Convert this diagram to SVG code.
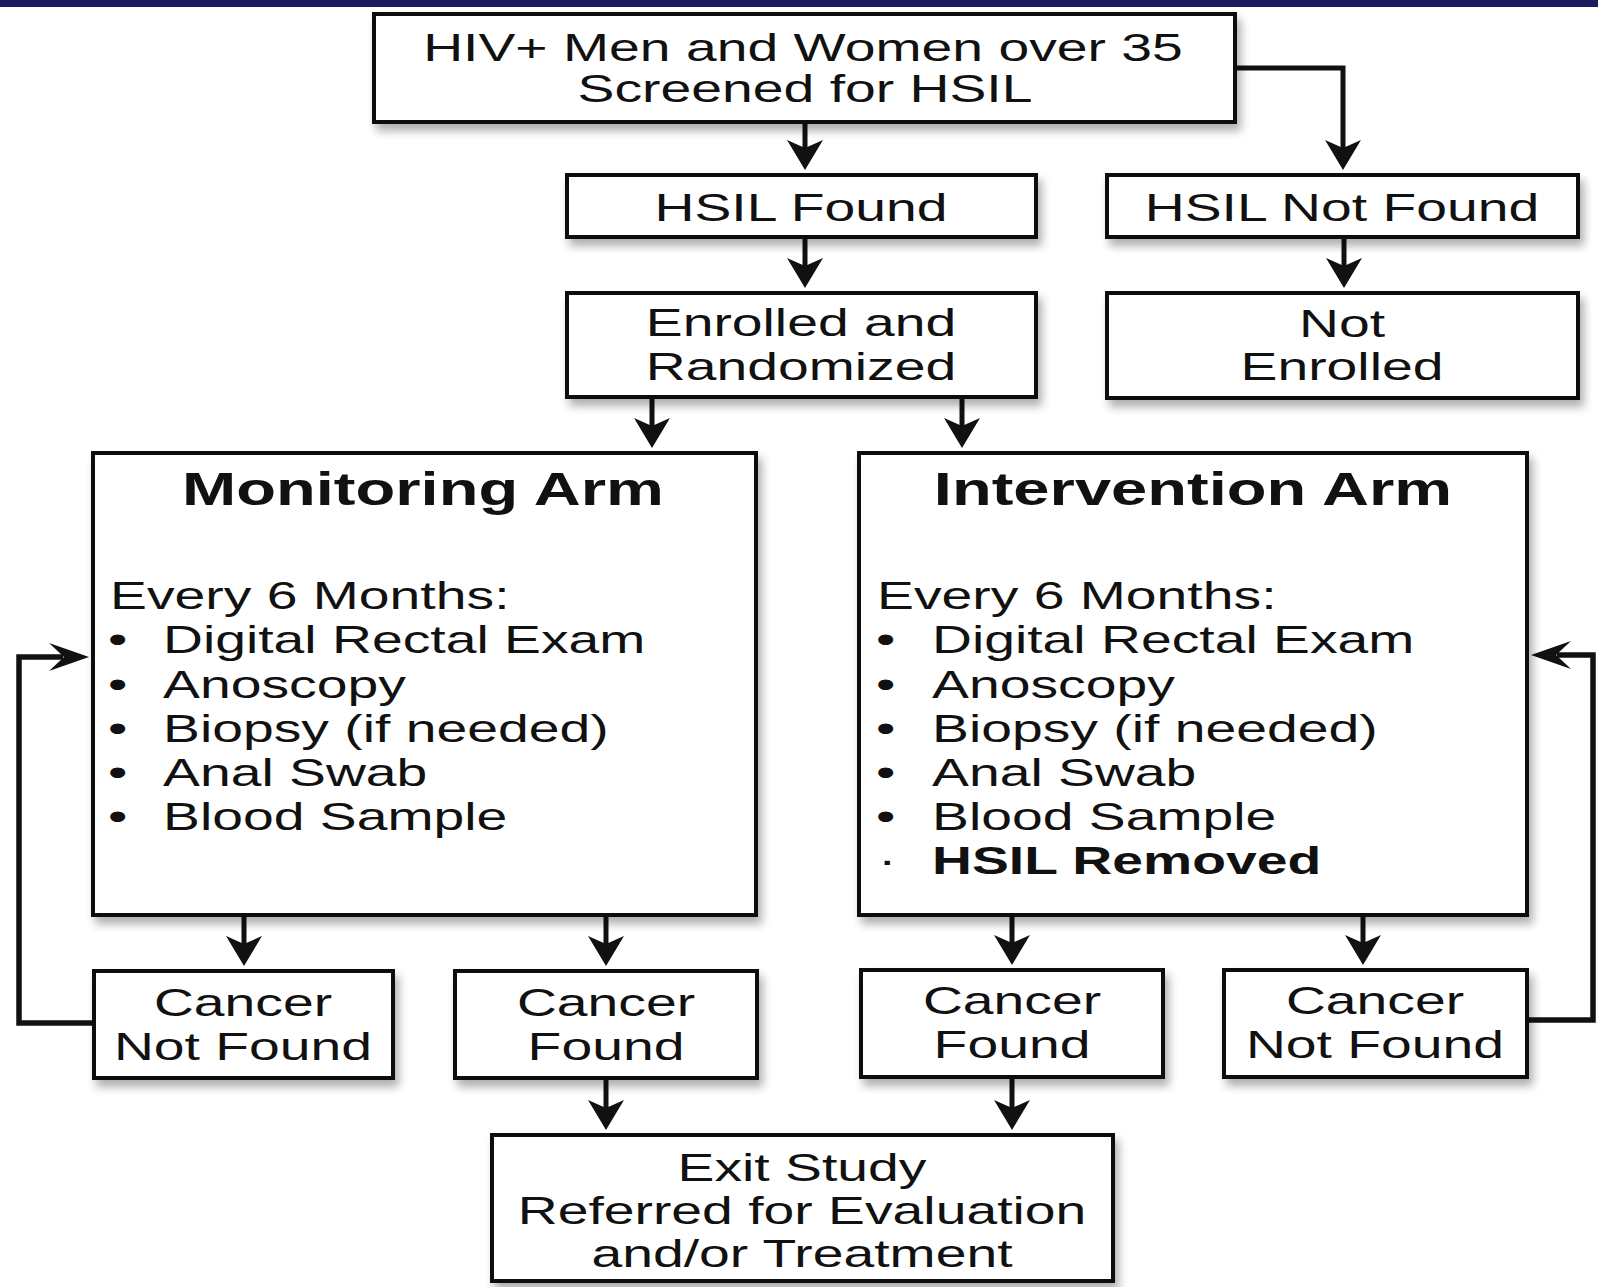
<svg xmlns="http://www.w3.org/2000/svg" width="1598" height="1287" viewBox="0 0 1598 1287">
  <defs>
    <style>
      .box { fill: #ffffff; stroke: #111111; stroke-width: 4; filter: url(#shadow); }
      .t { font-family: "Liberation Sans", Arial, Helvetica, sans-serif; font-size: 39.5px; fill: #111111; }
      .c { text-anchor: middle; }
      .b { font-weight: bold; }
      .title { font-family: "Liberation Sans", Arial, Helvetica, sans-serif; font-size: 46.5px; font-weight: bold; fill: #111111; text-anchor: middle; }
      .flow { fill: none; stroke: #111111; stroke-width: 5; marker-end: url(#head); }
      .loop { fill: none; stroke: #111111; stroke-width: 5.5; marker-end: url(#loophead); }
    </style>
    <filter id="shadow" x="-10%" y="-10%" width="125%" height="135%">
      <feGaussianBlur in="SourceAlpha" stdDeviation="5"/>
      <feOffset dx="4" dy="7" result="blur"/>
      <feComponentTransfer><feFuncA type="linear" slope="0.32"/></feComponentTransfer>
      <feMerge><feMergeNode/><feMergeNode in="SourceGraphic"/></feMerge>
    </filter>
    <!-- solid barbed arrowhead for the main flow -->
    <marker id="head" markerUnits="userSpaceOnUse" viewBox="0 0 30 36" markerWidth="30" markerHeight="36" refX="10" refY="18" orient="auto">
      <path d="M0,0 L30,18 L0,36 L8,18 Z" fill="#111111"/>
    </marker>
    <!-- slimmer arrowhead for the repeat loops -->
    <marker id="loophead" markerUnits="userSpaceOnUse" viewBox="0 0 40 30" markerWidth="40" markerHeight="30" refX="14" refY="15" orient="auto">
      <path d="M0,1 L40,15 L0,29 L15,15 Z" fill="#111111"/>
    </marker>
  </defs>

  <rect x="0" y="0" width="1598" height="1287" fill="#ffffff"/>
  <rect x="0" y="0" width="1598" height="7" fill="#1d1b5e"/>

  <g id="connectors">
    <path class="flow" d="M805,124 V150"/>
    <path class="flow" d="M1237,68 H1343 V150"/>
    <path class="flow" d="M805,239 V268"/>
    <path class="flow" d="M1344,239 V268"/>
    <path class="flow" d="M652,399 V428"/>
    <path class="flow" d="M962,399 V428"/>
    <path class="flow" d="M244,917 V946"/>
    <path class="flow" d="M606,917 V946"/>
    <path class="flow" d="M1012,917 V945"/>
    <path class="flow" d="M1363,917 V945"/>
    <path class="flow" d="M606,1080 V1110"/>
    <path class="flow" d="M1012,1079 V1110"/>
    <path class="loop" d="M92,1023 H19 V657 H63"/>
    <path class="loop" d="M1527,1020 H1593 V655 H1557"/>
  </g>

  <g id="screened">
    <rect class="box" x="374" y="14" width="861" height="108"/>
    <text class="t c" transform="translate(803,61) scale(1.4,1)">HIV+ Men and Women over 35</text>
    <text class="t c" transform="translate(805,102) scale(1.4,1)">Screened for HSIL</text>
  </g>

  <g id="hsil-found">
    <rect class="box" x="567" y="175" width="469" height="62"/>
    <text class="t c" transform="translate(801,221) scale(1.4,1)">HSIL Found</text>
  </g>

  <g id="hsil-not-found">
    <rect class="box" x="1107" y="175" width="471" height="62"/>
    <text class="t c" transform="translate(1342,221) scale(1.4,1)">HSIL Not Found</text>
  </g>

  <g id="enrolled">
    <rect class="box" x="567" y="293" width="469" height="104"/>
    <text class="t c" transform="translate(801,336) scale(1.4,1)">Enrolled and</text>
    <text class="t c" transform="translate(801,380) scale(1.4,1)">Randomized</text>
  </g>

  <g id="not-enrolled">
    <rect class="box" x="1107" y="293" width="471" height="105"/>
    <text class="t c" transform="translate(1342,337) scale(1.4,1)">Not</text>
    <text class="t c" transform="translate(1342,380) scale(1.4,1)">Enrolled</text>
  </g>

  <g id="monitoring-arm">
    <rect class="box" x="93" y="453" width="663" height="462"/>
    <text class="title" transform="translate(423,505) scale(1.4,1)">Monitoring Arm</text>
    <text class="t" transform="translate(110,609) scale(1.4,1)">Every 6 Months:</text>
    <text class="t" transform="translate(108,653) scale(1.4,1)">•</text>
    <text class="t" transform="translate(163,653) scale(1.4,1)">Digital Rectal Exam</text>
    <text class="t" transform="translate(108,698) scale(1.4,1)">•</text>
    <text class="t" transform="translate(163,698) scale(1.4,1)">Anoscopy</text>
    <text class="t" transform="translate(108,742) scale(1.4,1)">•</text>
    <text class="t" transform="translate(163,742) scale(1.4,1)">Biopsy (if needed)</text>
    <text class="t" transform="translate(108,786) scale(1.4,1)">•</text>
    <text class="t" transform="translate(163,786) scale(1.4,1)">Anal Swab</text>
    <text class="t" transform="translate(108,830) scale(1.4,1)">•</text>
    <text class="t" transform="translate(163,830) scale(1.4,1)">Blood Sample</text>
  </g>

  <g id="intervention-arm">
    <rect class="box" x="859" y="453" width="668" height="462"/>
    <text class="title" transform="translate(1193,505) scale(1.4,1)">Intervention Arm</text>
    <text class="t" transform="translate(877,609) scale(1.4,1)">Every 6 Months:</text>
    <text class="t" transform="translate(876,653) scale(1.4,1)">•</text>
    <text class="t" transform="translate(932,653) scale(1.4,1)">Digital Rectal Exam</text>
    <text class="t" transform="translate(876,698) scale(1.4,1)">•</text>
    <text class="t" transform="translate(932,698) scale(1.4,1)">Anoscopy</text>
    <text class="t" transform="translate(876,742) scale(1.4,1)">•</text>
    <text class="t" transform="translate(932,742) scale(1.4,1)">Biopsy (if needed)</text>
    <text class="t" transform="translate(876,786) scale(1.4,1)">•</text>
    <text class="t" transform="translate(932,786) scale(1.4,1)">Anal Swab</text>
    <text class="t" transform="translate(876,830) scale(1.4,1)">•</text>
    <text class="t" transform="translate(932,830) scale(1.4,1)">Blood Sample</text>
    <text class="t" transform="translate(878,874) scale(1.4,1)">·</text>
    <text class="t b" transform="translate(932,874) scale(1.4,1)">HSIL Removed</text>
  </g>

  <g id="monitoring-cancer-not-found">
    <rect class="box" x="94" y="971" width="299" height="107"/>
    <text class="t c" transform="translate(243,1016) scale(1.4,1)">Cancer</text>
    <text class="t c" transform="translate(243,1060) scale(1.4,1)">Not Found</text>
  </g>

  <g id="monitoring-cancer-found">
    <rect class="box" x="455" y="971" width="302" height="107"/>
    <text class="t c" transform="translate(606,1016) scale(1.4,1)">Cancer</text>
    <text class="t c" transform="translate(606,1060) scale(1.4,1)">Found</text>
  </g>

  <g id="intervention-cancer-found">
    <rect class="box" x="861" y="970" width="302" height="107"/>
    <text class="t c" transform="translate(1012,1014) scale(1.4,1)">Cancer</text>
    <text class="t c" transform="translate(1012,1058) scale(1.4,1)">Found</text>
  </g>

  <g id="intervention-cancer-not-found">
    <rect class="box" x="1224" y="970" width="303" height="107"/>
    <text class="t c" transform="translate(1375,1014) scale(1.4,1)">Cancer</text>
    <text class="t c" transform="translate(1375,1058) scale(1.4,1)">Not Found</text>
  </g>

  <g id="exit-study">
    <rect class="box" x="492" y="1135" width="621" height="146"/>
    <text class="t c" transform="translate(802,1181) scale(1.4,1)">Exit Study</text>
    <text class="t c" transform="translate(802,1224) scale(1.4,1)">Referred for Evaluation</text>
    <text class="t c" transform="translate(802,1267) scale(1.4,1)">and/or Treatment</text>
  </g>
</svg>
